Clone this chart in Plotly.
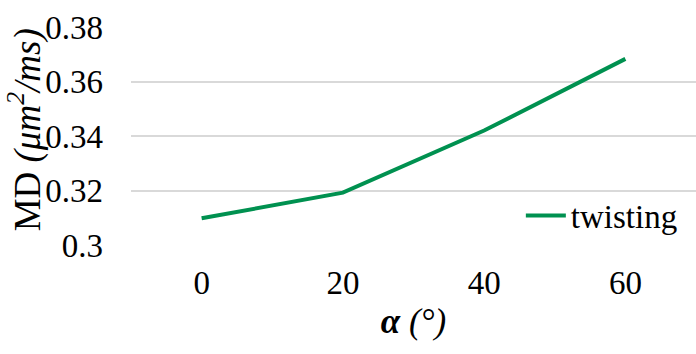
import plotly.graph_objects as go

# data
alpha = ["0", "20", "40", "60"]
md_twisting = [0.3098, 0.3192, 0.3420, 0.3683]
y_ticks = [0.3, 0.32, 0.34, 0.36, 0.38]

green = "#009150"
serif = "Liberation Serif"
tick_font = dict(family=serif, size=33, color="black")

fig = go.Figure()
fig.add_trace(go.Scatter(
    x=alpha, y=md_twisting, mode="lines", name="twisting",
    line=dict(color=green, width=4),
))

# y title as a rotated annotation so it can sit closer to the page edge
fig.add_annotation(
    text="MD <i>(μm<sup>2</sup>/ms)</i>", textangle=-90,
    xref="paper", yref="paper", x=-0.186, y=0.53,
    xanchor="center", yanchor="middle", showarrow=False,
    font=dict(family=serif, size=37, color="black"),
)

fig.update_layout(
    width=696, height=354,
    margin=dict(l=131, r=0, t=27, b=109),
    paper_bgcolor="white", plot_bgcolor="white",
    font=tick_font,
    showlegend=True,
    legend=dict(x=0.69, xanchor="left", y=0.135, yanchor="middle",
                bgcolor="rgba(0,0,0,0)", font=tick_font,
                itemwidth=40, tracegroupgap=0),
    xaxis=dict(
        type="category", range=[-0.5, 3.5],
        showgrid=False, showline=False, zeroline=False,
        tickfont=tick_font, ticklabelstandoff=15,
        title=dict(text="<b><i>α</i></b><i> (°)</i>", standoff=8,
                   font=dict(family=serif, size=35, color="black")),
    ),
    yaxis=dict(
        range=[0.3, 0.38], tickvals=y_ticks,
        showgrid=True, gridcolor="#d9d9d9", gridwidth=1.5,
        showline=False, zeroline=False,
        tickfont=tick_font, ticklabelstandoff=27,
    ),
)

# page has an 8px default body margin; drop it so the figure fills the window
fig.write_html("out.html", config={"displayModeBar": False},
               post_script="document.body.style.margin='0';")
